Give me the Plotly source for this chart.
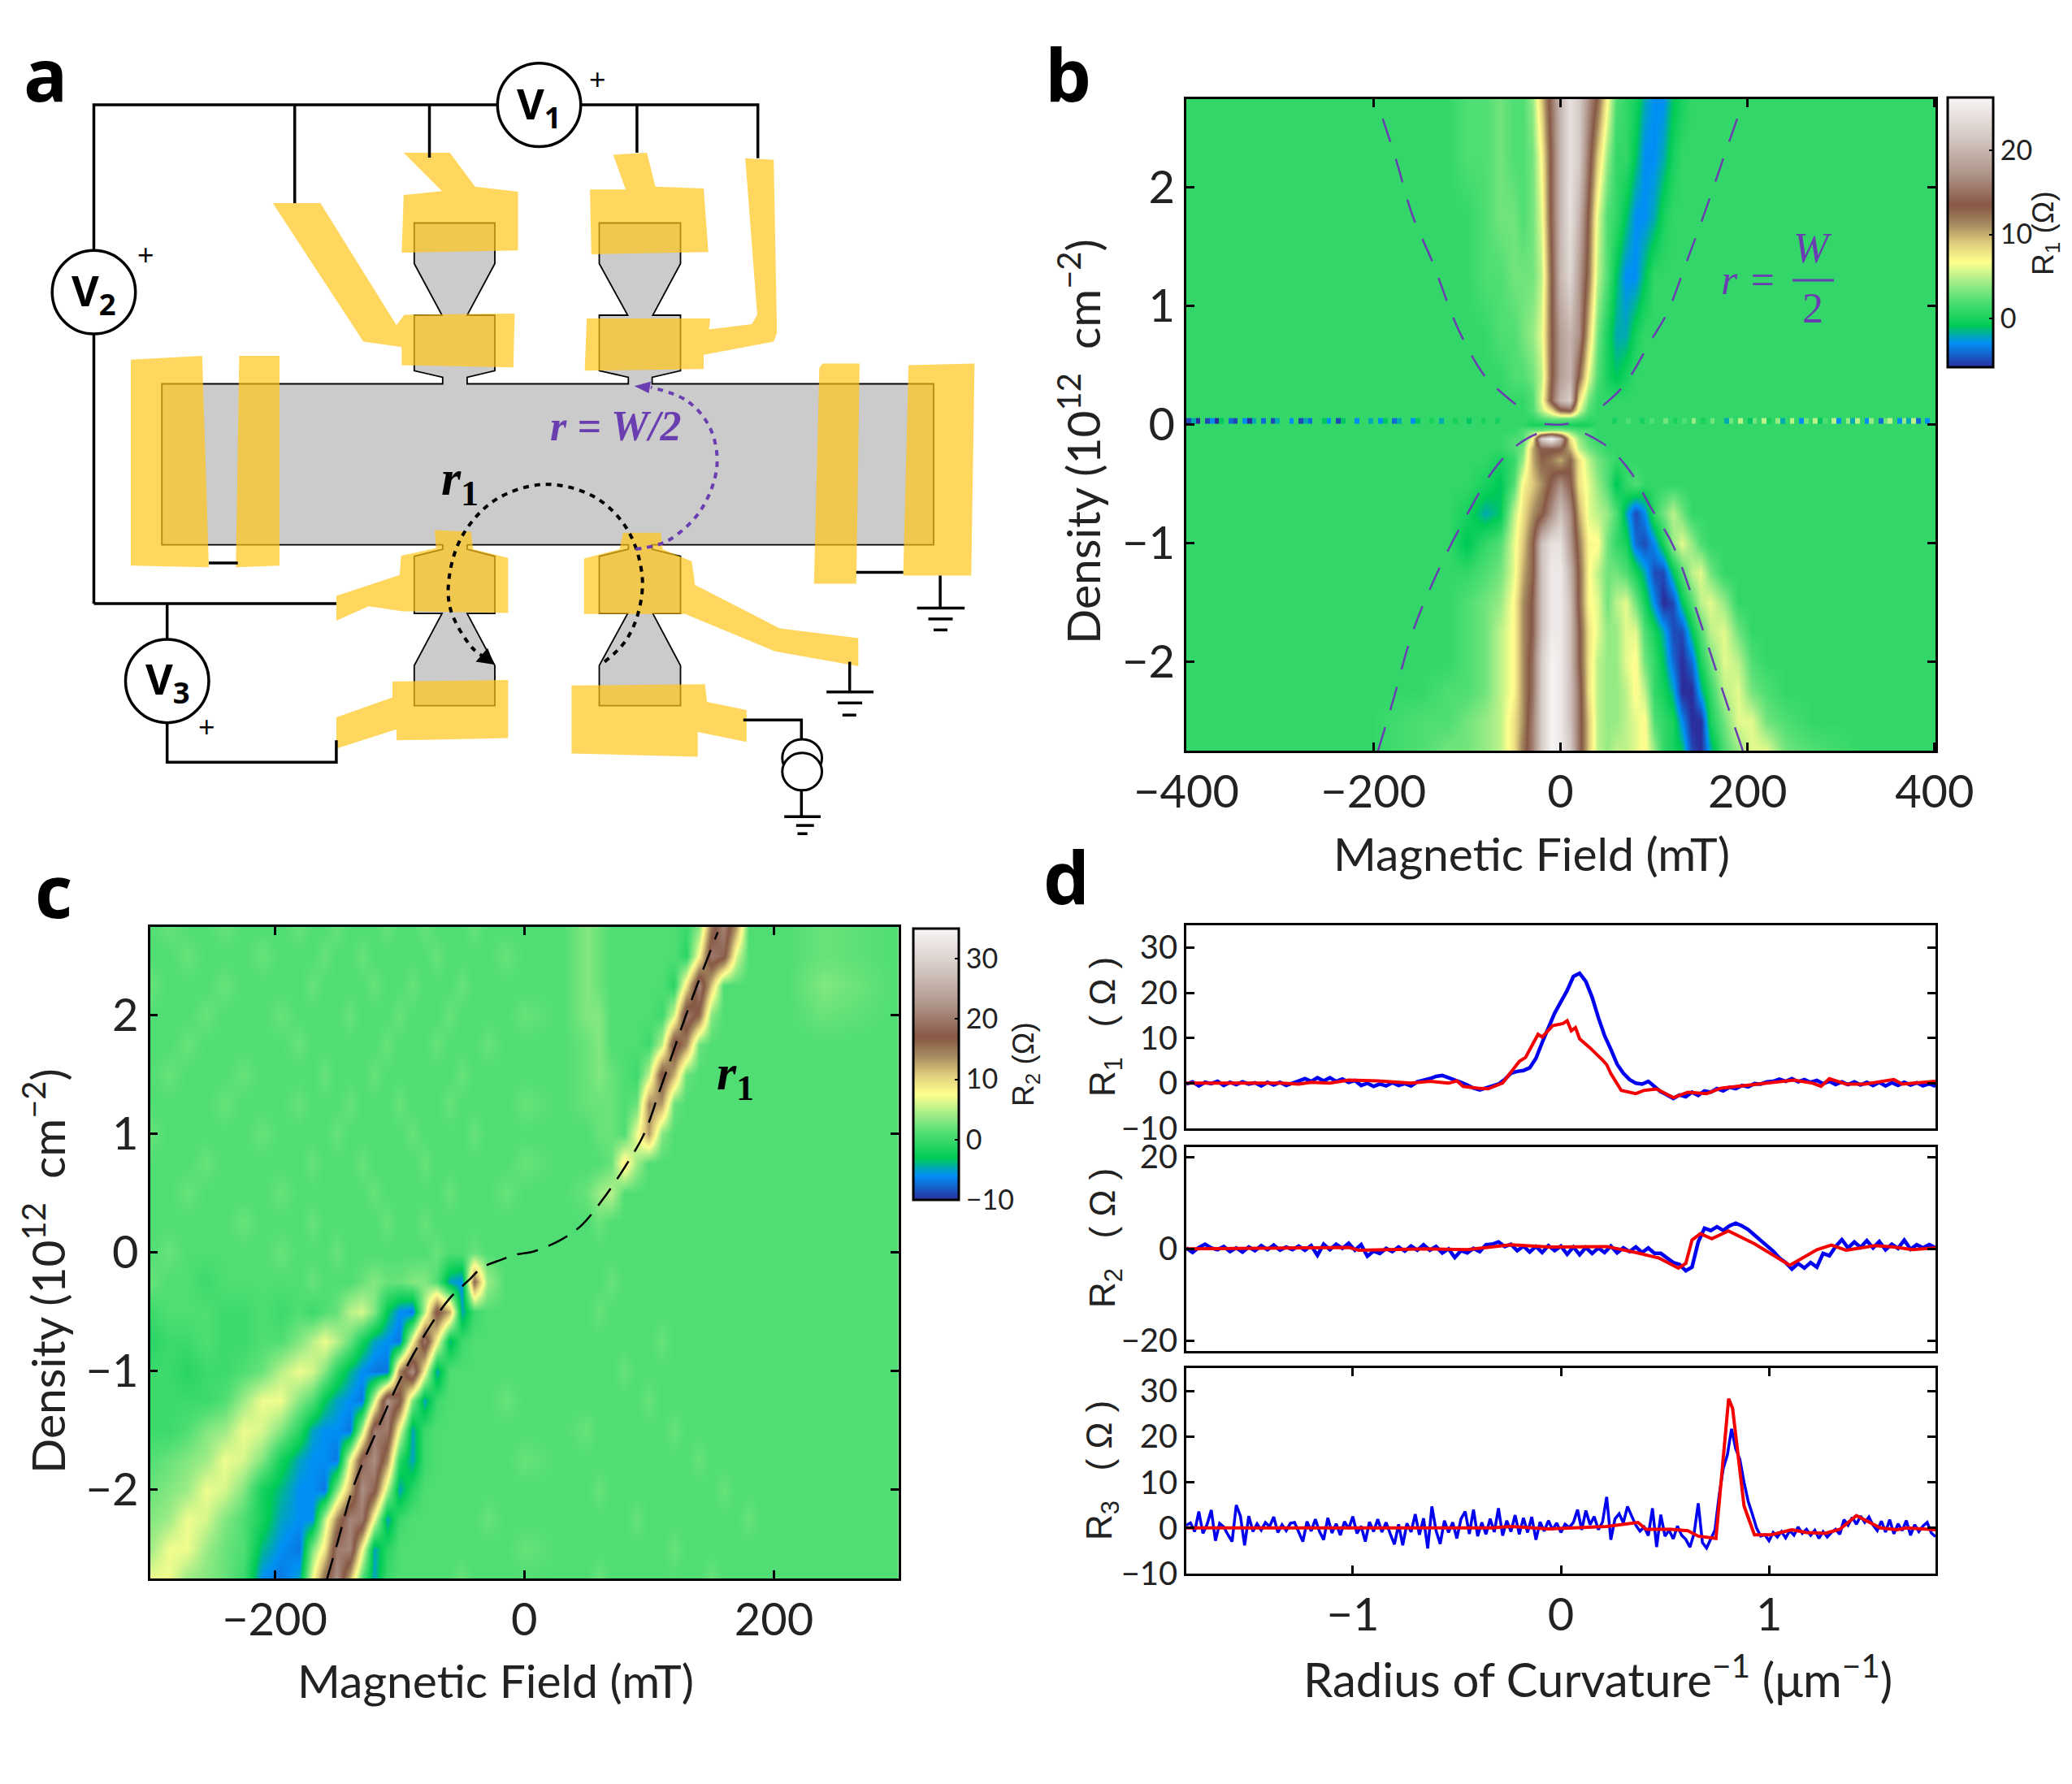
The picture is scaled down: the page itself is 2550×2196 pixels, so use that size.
import plotly.graph_objects as go

# colormap shared by both maps and their colorbars
TERRAIN = [[0, "#2B2F9E"], [0.09, "#0090F5"], [0.125, "#00B0A0"], [0.155, "#00CC55"],
           [0.25, "#55DF76"], [0.32, "#A8EE88"], [0.39, "#FFFF8F"], [0.46, "#DFCC7C"],
           [0.53, "#A58A5F"], [0.60, "#875845"], [0.72, "#B0968B"], [0.85, "#D3C7C2"],
           [1, "#F8F6F6"]]

# panel b: R1 map
B_FIELD = [-400, -300, -200, -150, -120, -100, -80, -65, -50, -40,
           -30, -20, -10, 0, 10, 20, 30, 40, 50, 60,
           70, 80, 90, 100, 110, 120, 130, 140, 150, 160,
           175, 190, 205, 220, 240, 270, 320, 400]
B_DENSITY = [2.75, 2.25, 1.75, 1.25, 0.75, 0.4, 0.2, 0.12, 0.05, 0, -0.05, -0.12,
             -0.2, -0.3, -0.5, -0.75, -1, -1.25, -1.5, -1.75, -2, -2.25, -2.5, -2.75]
B_R1 = [
    [1, 1, 1, 1, 1, 2, 2, 3, 2, 2, 4, 9, 15, 20, 24, 22, 17, 13, 7, 2, 1, 0, -2, -3, -3, -1, 0, 1, 1, 1, 1, 1, 1, 1, 1, 1, 1, 1],
    [1, 1, 1, 1, 1, 2, 2, 3, 2, 2, 3, 7, 14, 20, 24, 22, 15, 9, 4, 1, 1, -1, -3, -3, -2, 0, 1, 1, 1, 1, 1, 1, 1, 1, 1, 1, 1, 1],
    [1, 1, 1, 1, 1, 1, 2, 3, 3, 2, 3, 6, 14, 20, 24, 20, 13, 6, 2, 1, -1, -3, -3, -2, 0, 1, 1, 1, 1, 1, 1, 1, 1, 1, 1, 1, 1, 1],
    [1, 1, 1, 1, 1, 1, 2, 2, 3, 3, 3, 5, 13, 20, 23, 18, 12, 5, 2, -1, -3, -3, -1, 1, 1, 1, 1, 1, 1, 1, 1, 1, 1, 1, 1, 1, 1, 1],
    [1, 1, 1, 1, 1, 1, 1, 2, 2, 3, 4, 6, 13, 18, 20, 17, 9, 3, 0, -2, -2, 0, 1, 1, 1, 1, 1, 1, 1, 1, 1, 1, 1, 1, 1, 1, 1, 1],
    [1, 1, 1, 1, 1, 1, 1, 1, 2, 2, 3, 5, 13, 18, 20, 13, 6, 2, 0, -1, 0, 1, 1, 1, 1, 1, 1, 1, 1, 1, 1, 1, 1, 1, 1, 1, 1, 1],
    [1, 1, 1, 1, 1, 1, 1, 1, 1, 1, 2, 6, 14, 20, 22, 8, 3, 1, 1, 1, 1, 1, 1, 1, 1, 1, 1, 1, 1, 1, 1, 1, 1, 1, 1, 1, 1, 1],
    [1, 1, 1, 1, 1, 1, 1, 1, 1, 1, 2, 5, 8, 13, 14, 6, 2, 1, 1, 1, 1, 1, 1, 1, 1, 1, 1, 1, 1, 1, 1, 1, 1, 1, 1, 1, 1, 1],
    [1, 1, 1, 1, 1, 1, 1, 1, 1, 1, 1, 2, 3, 3, 3, 2, 1, 1, 1, 1, 1, 1, 1, 1, 1, 1, 1, 1, 1, 1, 1, 1, 1, 1, 1, 1, 1, 1],
    [1, 1, 1, 1, 1, 1, 1, 1, 1, 1, 0, 0, 0, 0, 0, 0, 0, 1, 1, 1, 1, 1, 1, 1, 1, 1, 1, 1, 1, 1, 1, 1, 1, 1, 1, 1, 1, 1],
    [1, 1, 1, 1, 1, 1, 1, 1, 1, 2, 3, 3, 4, 4, 3, 2, 2, 1, 1, 1, 1, 1, 1, 1, 1, 1, 1, 1, 1, 1, 1, 1, 1, 1, 1, 1, 1, 1],
    [1, 1, 1, 1, 1, 1, 1, 1, 2, 2, 7, 22, 26, 20, 8, 4, 2, 1, 1, 1, 1, 1, 1, 1, 1, 1, 1, 1, 1, 1, 1, 1, 1, 1, 1, 1, 1, 1],
    [1, 1, 1, 1, 1, 1, 1, 1, 2, 3, 10, 14, 14, 14, 10, 5, 3, 2, 1, 1, 1, 1, 1, 1, 1, 1, 1, 1, 1, 1, 1, 1, 1, 1, 1, 1, 1, 1],
    [1, 1, 1, 1, 1, 1, 1, 0, 1, 4, 10, 13, 12, 10, 13, 8, 5, 3, 2, 1, 1, 1, 1, 1, 1, 1, 1, 1, 1, 1, 1, 1, 1, 1, 1, 1, 1, 1],
    [1, 1, 1, 1, 1, 1, 0, -1, 2, 7, 9, 11, 14, 17, 14, 8, 6, 4, 2, -1, 1, 2, 1, 1, 1, 1, 1, 1, 1, 1, 1, 1, 1, 1, 1, 1, 1, 1],
    [1, 1, 1, 1, 1, 0, -2, -1, 5, 8, 11, 13, 17, 21, 17, 10, 6, 5, 4, 2, -2, -5, -3, 1, 3, 5, 3, 1, 1, 1, 1, 1, 1, 1, 1, 1, 1, 1],
    [1, 1, 1, 1, 1, -1, 1, 2, 6, 9, 13, 21, 24, 24, 18, 12, 7, 7, 3, 1, 0, -4, -5, -3, 0, 4, 6, 4, 2, 1, 1, 1, 1, 1, 1, 1, 1, 1],
    [1, 1, 1, 1, 1, 1, 2, 3, 6, 10, 13, 21, 25, 25, 20, 13, 7, 5, 3, 3, 2, 0, -2, -5, -5, -1, 2, 5, 6, 3, 1, 1, 1, 1, 1, 1, 1, 1],
    [1, 1, 1, 1, 1, 2, 3, 4, 7, 11, 14, 21, 25, 25, 21, 13, 7, 6, 3, 5, 6, 3, 0, -3, -6, -5, -1, 2, 5, 6, 4, 1, 1, 1, 1, 1, 1, 1],
    [1, 1, 1, 1, 1, 2, 3, 5, 7, 11, 14, 21, 25, 25, 21, 14, 8, 6, 4, 4, 6, 6, 2, 0, -2, -5, -5, -1, 2, 5, 6, 3, 1, 1, 1, 1, 1, 1],
    [1, 1, 1, 1, 1, 2, 3, 5, 7, 11, 15, 22, 26, 25, 21, 14, 8, 5, 4, 4, 6, 7, 3, 1, -1, -4, -6, -4, 0, 3, 6, 5, 2, 1, 1, 1, 1, 1],
    [1, 1, 1, 1, 2, 2, 3, 5, 7, 11, 15, 22, 26, 25, 21, 15, 8, 5, 4, 4, 5, 7, 5, 1, 0, -2, -6, -6, -2, 1, 5, 6, 3, 2, 1, 1, 1, 1],
    [1, 1, 1, 2, 2, 3, 4, 5, 8, 11, 16, 22, 26, 25, 21, 15, 9, 5, 4, 4, 5, 6, 7, 2, 1, 0, -3, -6, -6, 0, 3, 6, 6, 3, 2, 1, 1, 1],
    [1, 1, 1, 2, 3, 3, 4, 5, 8, 12, 16, 22, 26, 25, 22, 15, 9, 5, 4, 5, 5, 6, 7, 4, 1, 0, -1, -5, -6, -2, 2, 4, 6, 6, 3, 2, 1, 1],
]
# noisy row right at zero density, 5 mT cells
STRIP_EDGES = list(range(-400, 401, 5))
STRIP_DENSITY = [0.01, 0.055]
STRIP_ROW = [-5, -2, -6, 1, -5, -3, -6, -1, 1, -4, -5, 1, -3, -6, -2, 1, -4, 1, -5, -2,
             1, 1, -3, 1, -5, -2, -4, 1, 1, -1, -3, 1, -5, -1, 1, 1, -3, 1, 1, -2,
             1, -3, -1, 1, -4, -2, 1, 1, -3, -1, 1, 1, 0, 1, -2, 1, 1, 0, 1, 1,
             -1, 1, 1, 0, 1, 1, 0, 1, 1, 1, None, None, None, None, None, None, None, None, None, None,
             None, None, None, None, None, None, None, None, None, None, 1, 0, 1, 1, 2, 1, 1, 0, 1, 2,
             1, 1, 3, 1, 0, 1, 2, 1, 4, 1, 0, 1, 3, 1, 1, -2, 3, 1, 5, 1,
             -1, 3, 1, 5, 0, 1, 4, -2, 1, 5, 1, -3, 3, 1, 5, -1, 2, 1, 5, -3,
             1, 4, -2, 5, 1, -3, 4, 1, -4, 3, 5, 1, -3, 4, -2, 5, -4, 1, -3, 1]
# dashed r = W/2 curves
WB_UP_R_B = [189, 174, 153, 135, 114, 96, 75, 61, 36]
WB_UP_R_N = [2.58, 2.24, 1.76, 1.375, 0.94, 0.70, 0.41, 0.27, 0.10]
WB_UP_L_B = [-190, -176, -158, -137, -109, -81, -63, -35]
WB_UP_L_N = [2.58, 2.24, 1.76, 1.375, 0.80, 0.41, 0.27, 0.09]
WB_MID_B = [-17, 0, 15]
WB_MID_N = [0.005, 0, 0.015]
WB_LO_L_B = [-195, -179, -158, -130, -102, -73, -52, -35, -20]
WB_LO_L_N = [-2.75, -2.33, -1.75, -1.22, -0.79, -0.40, -0.21, -0.115, -0.06]
WB_LO_R_B = [195, 177, 153, 121, 96, 75, 54, 36, 18]
WB_LO_R_N = [-2.75, -2.33, -1.75, -1.03, -0.69, -0.40, -0.21, -0.115, -0.045]

# panel c: R2 map
C_FIELD = [-300, -285, -270, -255, -240, -225, -210, -195, -180, -170,
           -160, -150, -140, -130, -120, -110, -100, -90, -80, -70,
           -60, -50, -40, -30, -15, 0, 30, 50, 60, 70,
           80, 90, 100, 110, 120, 130, 140, 150, 160, 170,
           180, 190, 210, 240, 300]
C_DENSITY = [2.75, 2.5, 2.25, 2, 1.75, 1.5, 1.25, 1, 0.75, 0.5, 0.25, 0,
             -0.25, -0.5, -0.75, -1, -1.25, -1.5, -1.75, -2, -2.25, -2.5, -2.75]
C_R2 = [
    [1, 2, 1, 1, 2, 1, 1, 1, 2, 1, 1, 2, 1, 1, 1, 2, 1, 1, 2, 1, 1, 1, 2, 1, 1, 1, 1, 3, 2, 1, 1, 1, 1, 1, 1, 0, 3, 15, 21, 13, 1, 1, 1, 2, 1],
    [1, 1, 2, 1, 1, 1, 2, 1, 1, 1, 2, 1, 1, 2, 1, 1, 1, 1, 1, 2, 1, 1, 1, 1, 2, 1, 1, 3, 2, 1, 1, 1, 1, 1, 1, -1, 8, 20, 18, 6, 1, 1, 1, 2, 1],
    [2, 1, 1, 1, 2, 1, 1, 1, 1, 2, 1, 1, 1, 1, 2, 1, 1, 2, 1, 1, 1, 2, 1, 1, 1, 1, 1, 3, 2, 1, 1, 1, 1, 1, -1, 9, 21, 11, 1, 1, 1, 1, 1, 3, 1],
    [1, 1, 1, 2, 1, 1, 1, 2, 1, 1, 1, 1, 2, 1, 1, 1, 2, 1, 1, 1, 2, 1, 1, 1, 1, 2, 1, 3, 3, 1, 1, 1, 1, 0, 6, 20, 16, 3, 1, 1, 1, 1, 1, 2, 1],
    [1, 1, 2, 1, 1, 1, 1, 1, 2, 1, 1, 1, 1, 1, 1, 2, 1, 1, 1, 2, 1, 1, 1, 2, 1, 1, 1, 2, 3, 1, 1, 1, 0, 5, 19, 14, 2, 1, 1, 1, 1, 1, 1, 1, 1],
    [1, 2, 1, 1, 1, 2, 1, 1, 1, 1, 2, 1, 1, 1, 2, 1, 1, 1, 1, 1, 1, 2, 1, 1, 1, 1, 1, 2, 3, 2, 1, 0, 5, 18, 12, 2, 1, 1, 1, 1, 1, 1, 1, 1, 1],
    [1, 1, 1, 1, 2, 1, 1, 1, 2, 1, 1, 1, 2, 1, 1, 1, 2, 1, 1, 1, 2, 1, 1, 1, 1, 2, 1, 2, 2, 2, 1, 2, 14, 13, 2, 1, 1, 1, 1, 1, 1, 1, 1, 1, 1],
    [2, 1, 1, 1, 1, 1, 2, 1, 1, 1, 1, 2, 1, 1, 1, 1, 1, 2, 1, 1, 1, 1, 2, 1, 1, 1, 1, 1, 2, 2, 1, 7, 13, 3, 1, 1, 1, 1, 1, 1, 1, 1, 1, 1, 1],
    [1, 1, 1, 2, 1, 1, 1, 1, 1, 2, 1, 1, 1, 2, 1, 1, 1, 1, 2, 1, 1, 1, 1, 1, 1, 2, 1, 1, 1, 2, 9, 4, 1, 1, 1, 1, 1, 1, 1, 1, 1, 1, 1, 1, 1],
    [1, 1, 2, 1, 1, 1, 1, 2, 1, 1, 1, 1, 1, 1, 2, 1, 1, 1, 1, 1, 2, 1, 1, 1, 2, 1, 1, 2, 4, 5, 1, 1, 1, 1, 1, 1, 1, 1, 1, 1, 1, 1, 1, 1, 1],
    [1, 1, 1, 1, 1, 2, 1, 1, 1, 2, 1, 1, 1, 1, 1, 2, 1, 1, 2, 1, 1, 1, 1, 1, 1, 1, 1, 1, 2, 1, 1, 1, 1, 1, 1, 1, 1, 1, 1, 1, 1, 1, 1, 1, 1],
    [1, 2, 1, 1, 1, 1, 1, 2, 1, 1, 1, 2, 1, 1, 1, 1, 1, 1, 1, 2, 1, 1, 2, 1, 1, 1, 1, 1, 1, 1, 1, 1, 1, 1, 1, 1, 1, 1, 1, 1, 1, 1, 1, 1, 1],
    [2, 1, 1, 0, 1, 1, 1, 1, 1, 2, 1, 1, 1, 2, 3, 2, 2, 3, 3, 1, -5, -6, 16, 4, 1, 1, 1, 1, 1, 2, 1, 1, 1, 1, 1, 1, 1, 1, 1, 1, 1, 1, 1, 1, 1],
    [0, 1, 1, 1, 0, 0, 1, 0, 1, 0, 1, 2, 5, 6, 3, -3, -6, -7, 5, 18, 12, -5, 0, 1, 1, 1, 1, 1, 2, 1, 1, 1, 1, 1, 1, 1, 1, 1, 1, 1, 1, 1, 1, 1, 1],
    [-1, 0, 0, 1, 0, 0, 1, 1, 3, 5, 7, 5, 2, -2, -5, -6, -7, 8, 20, 8, -4, 0, 1, 1, 1, 1, 1, 1, 1, 1, 1, 1, 1, 2, 1, 1, 1, 1, 1, 1, 1, 1, 1, 1, 1],
    [0, 0, -1, 0, 0, 1, 2, 5, 7, 6, 3, -1, -4, -6, -7, -7, 14, 22, 8, -5, 1, 1, 1, 1, 1, 1, 1, 1, 1, 1, 2, 1, 1, 1, 1, 1, 1, 1, 1, 1, 1, 1, 1, 1, 1],
    [0, 0, 0, 0, 1, 4, 7, 7, 3, 1, -3, -5, -6, -7, 6, 22, 18, 3, -5, 0, 1, 1, 1, 1, 2, 1, 1, 1, 1, 1, 1, 1, 2, 1, 1, 1, 1, 1, 1, 1, 1, 1, 1, 1, 1],
    [0, 0, 1, 3, 4, 7, 6, 3, -1, -5, -6, -6, -7, 5, 20, 20, 7, -5, 0, 1, 1, 1, 1, 1, 1, 1, 1, 2, 1, 1, 1, 1, 1, 1, 2, 1, 1, 1, 1, 1, 1, 1, 1, 1, 1],
    [1, 2, 3, 4, 7, 6, 3, -2, -5, -6, -6, -7, 7, 18, 22, 14, -1, -5, 0, 1, 1, 1, 1, 1, 1, 2, 1, 1, 1, 1, 1, 1, 1, 1, 1, 1, 2, 1, 1, 1, 1, 1, 1, 1, 1],
    [2, 3, 4, 7, 6, 3, -2, -4, -6, -6, -7, 3, 12, 22, 18, 5, -5, -1, 1, 1, 1, 1, 1, 1, 1, 1, 1, 1, 2, 1, 1, 1, 1, 1, 1, 1, 1, 1, 2, 1, 1, 1, 1, 1, 1],
    [3, 4, 7, 6, 3, 1, -2, -5, -6, -6, 5, 14, 21, 20, 7, -5, 0, 1, 1, 1, 1, 1, 1, 2, 1, 1, 1, 1, 1, 1, 1, 2, 1, 1, 1, 1, 1, 1, 1, 1, 2, 1, 1, 1, 1],
    [4, 7, 7, 4, 2, 1, -4, -6, -7, 3, 9, 20, 21, 8, -5, -1, 1, 1, 1, 1, 1, 1, 1, 1, 1, 2, 1, 1, 1, 1, 1, 1, 1, 1, 2, 1, 1, 1, 1, 1, 1, 1, 1, 1, 1],
    [7, 7, 4, 3, 2, 0, -6, -7, -5, 7, 16, 22, 12, 1, -5, 0, 1, 1, 1, 1, 1, 2, 1, 1, 1, 1, 1, 1, 2, 1, 1, 1, 1, 1, 1, 1, 1, 2, 1, 1, 1, 1, 1, 1, 1],
]
R1_CURVE_B = [-158, -150, -137, -118, -97, -76, -60, -44, -34, -18, -7, 8, 30, 46, 61, 80, 96, 109, 133, 155]
R1_CURVE_N = [-2.75, -2.46, -1.98, -1.5, -1.02, -0.63, -0.39, -0.23, -0.13, -0.06, -0.02, 0.01, 0.11, 0.23, 0.42, 0.71, 1, 1.38, 2.1, 2.7]

# panel d traces
RHO_STEP3 = [round(-1.8 + 0.03 * i, 2) for i in range(121)]
RHO_STEP2 = [round(-1.8 + 0.02 * i, 2) for i in range(181)]
D1_BLUE = [-.2, .3, -.6, .2, -.1, .4, -.5, .2, -.3, .3,
           -.2, .1, -.6, .2, -.4, .2, -.5, .1, .5, 1,
           .4, 1.2, .5, 1.2, .4, .9, .2, .6, -.5, 0,
           -.7, -.2, -.6, .1, -.5, -.1, -.6, .3, .6, 1,
           1.5, 1.7, 1.2, .8, .2, -.4, -1.1, -1.5, -1, -.7,
           -.2, .8, 2.2, 2.6, 2.8, 3.4, 5.5, 9, 12.5, 15.5,
           18, 20.5, 23.6, 24.3, 22.5, 19, 14.5, 10.5, 7.5, 4.2,
           2.2, .8, 0, -.2, .4, -.8, -1.9, -2.6, -3.4, -2.6,
           -3, -2, -2.7, -1.7, -2, -1.2, -1.7, -.9, -1.2, -.5,
           -.8, -.1, -.2, .3, .4, .9, .4, 1, .3, .8,
           .2, .6, -.1, .4, -.3, .3, -.3, .3, -.4, .2,
           -.5, .2, -.6, .1, -.5, .2, -.4, .1, -.6, -.1, -.7]
D1_RED_X = [-1.8, -1.57, -1.34, -1.26, -1.2, -1.11, -1.02, -.88, -.72, -.63, -.54, -.5, -.47, -.4, -.35, -.28,
            -.24, -.2, -.17, -.15, -.11, -.09, -.04, .01, .03, .05, .07, .09, .14, .2, .22, .24, .29,
            .36, .4, .46, .54, .61, .7, .77, .89, 1, 1.12, 1.21, 1.25, 1.29, 1.37, 1.46, 1.6, 1.64, 1.8]
D1_RED = [0, 0, 0, -.2, .2, 0, .7, .5, 0, .4, 0, .5, -.7, -1.1, -1.25, .06,
          2.4, 4.8, 5.7, 7.5, 10.8, 10.2, 12.7, 13.2, 13.8, 11.6, 12.3, 9.8, 7.8, 5.1, 4.1, 2.1, -1.6,
          -2.3, -1.6, -1.3, -3.2, -2, -2.3, -1.1, -.5, 0, .7, 0, -.7, 1, -.2, -.2, .8, -.2, .4]
D2_BLUE = [.2, -.8, .3, 1, .2, -.2, .5, -.6, .2, -.7,
           .4, -.4, .7, -.2, .8, -.3, .4, -.2, .6, -.3,
           .7, -1.4, 1, -.2, 1, .1, 1.2, -.3, .9, -1.6,
           -.5, -1, .1, -.6, .4, -.5, .6, -.3, .9, -.3,
           .5, -.9, 0, -1.9, -.4, -.9, .1, -.6, .9, 1,
           1.5, .5, 1, -.4, .6, -.7, .5, -.8, .7, -.4,
           .6, -1.2, .4, -1.3, .3, -1, .2, -.8, .6, -.9,
           .2, -.6, .4, -.8, .2, -1, -1, -2, -3, -3.4,
           -4.8, -4, 1.5, 4.5, 4, 4.8, 4, 5, 5.6, 5,
           4.2, 3, 1.8, .6, -.5, -2, -3, -4.4, -3.2, -4.2,
           -3, -4, -1, -1.5, .5, 2, .2, 1.5, .3, 1.8,
           .2, 1.6, -.2, 1, .1, 1.9, -.1, .9, .2, .9, .2]
D2_RED_X = [-1.8, -1.02, -.97, -.65, -.45, -.33, -.24, -.055, .22, .36, .47, .565, .6, .63, .67, .725, .805,
            .93, 1, 1.1, 1.185, 1.23, 1.3, 1.37, 1.51, 1.6, 1.69, 1.8]
D2_RED = [0, .3, -.3, 0, -.2, .5, .9, .4, .5, -.8, -2, -4.2, -3.2, 1.9, 3.3, 2.2, 3.9,
          1.1, -.8, -3.6, -1.4, -.2, .8, -.3, .7, .4, -.2, .2]
D3_BLUE = [.6, 1.1, -.8, 3.6, -1.2, .8, 3.9, -2.8, 1, .2,
           -1.5, -3, 5, 2.6, -3.8, 2.6, -.8, .9, -.5, 1.2,
           .3, 2.4, -1, .7, -.6, 1, 1.2, -.9, -3, 1.4,
           -.7, 1.9, -.8, -2.6, 2.2, -1.1, .9, -1.6, 1.4, -.2,
           2.5, -1.2, .4, -3, 1.3, -.8, 1.9, -.9, 1.2, -1.3,
           -3.6, .8, -3.8, 1, -.9, 3, -1.5, 2.1, -4.5, 4.7,
           -.6, -3.5, 1.6, -1, 1.2, -2.3, 2, 3.6, -1.3, 4,
           -1.8, 1.2, -1.4, 2, -.9, 4.3, -1.7, 1.6, -.8, 2.8,
           -1.4, 2.2, -1, 2.4, -2.6, 1.3, -.7, 1.6, -.4, 1.1,
           -1, .8, .1, 1.2, 4, -.4, 3.8, .7, 2.5, -.4,
           1.3, 6.8, -2.6, 2, 3.1, 1.1, 4.7, 2.6, .6, -.7,
           .2, -1.7, 4.3, -4.2, 2.9, -1.8, -.5, -2.4, .4, -1.6,
           -2.5, -4.2, -1.2, 5.4, -3.2, -4.4, -2.6, -.5, 7, 13,
           16, 21.7, 17.3, 15, 10, 5.8, 3, 0, -1.8, -1.5,
           -2.8, -1, -2, -.8, -2.2, -.6, -1.6, .2, -1.2, -.3,
           -1.6, -.5, -2.3, -.8, -2, -1, -.3, -1.4, 1.8, .6,
           2.3, .8, 2.6, 1.2, 2.4, .6, -.6, 1.5, -.9, 1.8,
           -1.3, .9, -.6, 1.6, -1.6, .7, -.8, .4, 1.2, -1.1, -1.9]
D3_RED_X = [-1.8, -1.41, -1.11, -.88, -.33, -.24, -.06, .22, .37, .41, .53, .61, .66, .745, .76, .79, .806, .825,
            .85, .88, .93, 1.01, 1.11, 1.18, 1.27, 1.34, 1.42, 1.5, 1.535, 1.615, 1.66, 1.8]
D3_RED = [0, -.1, 0, 0, 0, .3, -.2, .3, 1.2, -.3, -.3, -.6, -1.8, -2.3, 5.4, 21.5, 28.3, 26.2,
          16.1, 4.8, -1.5, -1.5, -.4, -1, -1.2, -.3, 2.7, .9, 0, -.4, 0, -.4]

W, H = 2550, 2196
PURPLE = "#6A3DB0"
GOLD = "#FFC51A"
GRAY = "#CBCBCB"
SX, SY = 1275 / 1568, 1060 / 1568   # schematic was measured in this scale


def sch(p):
    return p[0] * SX, p[1] * SY


def path(pts, close=True):
    d = "M" + " L".join("%.1f %.1f" % sch(p) for p in pts)
    return d + (" Z" if close else "")


def shape_poly(pts, fill, line=None, width=0, opacity=1):
    return dict(type="path", path=path(pts), xref="x5", yref="y5", layer="below", fillcolor=fill,
                opacity=opacity, line=dict(color=line or "rgba(0,0,0,0)", width=width))


def wire(pts, width=3.5):
    return dict(type="path", path=path(pts, close=False), xref="x5", yref="y5", layer="below",
                line=dict(color="black", width=width))


def circle(cx, cy, rx, ry, width=3.5):
    x0, y0 = sch((cx - rx, cy - ry))
    x1, y1 = sch((cx + rx, cy + ry))
    return dict(type="circle", x0=x0, y0=y0, x1=x1, y1=y1, xref="x5", yref="y5", layer="below",
                fillcolor="white", line=dict(color="black", width=width))


def text(x, y, s, size, family="Lato", color="black", angle=0):
    return dict(x=x, y=y, xref="x5", yref="y5", text=s, showarrow=False, textangle=angle,
                font=dict(family=family, size=size, color=color), xanchor="center", yanchor="middle")


DEVICE = [(245, 699), (670, 699), (670, 687), (627, 675), (627, 574), (669, 574), (627, 480), (627, 406),
          (749, 406), (749, 480), (707, 574), (749, 574), (749, 675), (707, 687), (707, 699), (951, 699),
          (951, 687), (907, 675), (907, 574), (950, 574), (907, 480), (907, 406), (1030, 406), (1030, 480),
          (988, 574), (1030, 574), (1030, 675), (987, 687), (987, 699), (1413, 699), (1413, 992), (987, 992),
          (987, 1000), (1030, 1013), (1030, 1117), (988, 1117), (1030, 1212), (1030, 1285), (907, 1285),
          (907, 1212), (950, 1117), (907, 1117), (907, 1013), (951, 1000), (951, 992), (707, 992), (707, 1000),
          (749, 1013), (749, 1117), (707, 1117), (749, 1212), (749, 1285), (627, 1285), (627, 1212), (669, 1117),
          (627, 1117), (627, 1013), (670, 1000), (670, 992), (245, 992)]
CONTACTS = [
    [(198, 655), (306, 648), (316, 1033), (198, 1030)],
    [(362, 648), (423, 648), (423, 1030), (357, 1033)],
    [(1240, 670), (1245, 662), (1301, 662), (1296, 1063), (1232, 1063)],
    [(1375, 665), (1475, 662), (1470, 1048), (1367, 1048)],
    [(413, 370), (485, 370), (600, 592), (612, 573), (779, 571), (777, 669), (608, 665), (608, 632), (550, 622)],
    [(611, 278), (681, 278), (719, 340), (784, 349), (784, 456), (608, 460), (611, 355), (669, 348)],
    [(928, 282), (979, 278), (992, 340), (1065, 343), (1072, 459), (895, 463), (893, 345), (947, 345)],
    [(1128, 288), (1171, 291), (1176, 606), (1171, 622), (1065, 646), (1065, 672), (885, 675), (888, 580),
     (1075, 580), (1073, 600), (1138, 590), (1146, 573)],
    [(658, 965), (713, 968), (716, 1000), (769, 1016), (769, 1116), (610, 1113), (558, 1104), (509, 1130),
     (509, 1085), (605, 1047), (607, 1012), (660, 998)],
    [(594, 1241), (769, 1238), (769, 1344), (600, 1348), (600, 1328), (509, 1363), (509, 1306), (594, 1270)],
    [(943, 970), (1000, 970), (1003, 1000), (1047, 1022), (1052, 1065), (1180, 1144), (1299, 1162),
     (1299, 1213), (1173, 1186), (1037, 1118), (884, 1118), (884, 1017), (938, 1000)],
    [(865, 1248), (1067, 1246), (1070, 1278), (1130, 1293), (1130, 1351), (1056, 1333), (1056, 1378), (865, 1372)],
]
WIRES = [
    [(142, 1099), (142, 191), (1147, 191), (1147, 288)],
    [(142, 1099), (509, 1099)],
    [(446, 191), (446, 370)], [(650, 191), (650, 287)], [(964, 191), (964, 278)],
    [(253, 1099), (253, 1165)], [(253, 1316), (253, 1388), (509, 1388), (509, 1348)],
    [(316, 1025), (360, 1025)], [(1296, 1042), (1367, 1042)],
    [(1423, 1048), (1423, 1107)], [(1388, 1107), (1460, 1107)], [(1405, 1127), (1442, 1127)], [(1413, 1147), (1434, 1147)],
    [(1286, 1205), (1286, 1260)], [(1251, 1260), (1322, 1260)], [(1268, 1280), (1305, 1280)], [(1275, 1302), (1296, 1302)],
    [(1125, 1311), (1213, 1311), (1213, 1348)], [(1213, 1436), (1213, 1487)],
    [(1187, 1487), (1242, 1487)], [(1205, 1503), (1232, 1503)], [(1207, 1518), (1222, 1518)],
]
BLACK_ARC = [(915, 1205), (945, 1170), (965, 1120), (972, 1050), (950, 965), (900, 905), (825, 882), (750, 910),
             (700, 975), (680, 1050), (682, 1110), (715, 1180), (738, 1200)]
PURPLE_ARC = [(962, 1000), (1010, 985), (1060, 930), (1085, 850), (1075, 780), (1040, 730), (985, 705)]

fig = go.Figure()

# b
fig.add_trace(go.Heatmap(x=B_FIELD, y=B_DENSITY, z=B_R1, zmin=-5.8, zmax=26.3, colorscale=TERRAIN, zsmooth="best",
                         xaxis="x", yaxis="y", colorbar=dict(
                             x=2397 / W, xanchor="left", xpad=0, y=1 - 120 / H, yanchor="top", ypad=0, len=332 / H,
                             thickness=56, outlinewidth=3, outlinecolor="black", ticks="inside", ticklen=6,
                             tickwidth=2, tickcolor="black", tickvals=[0, 10, 20],
                             tickfont=dict(family="Lato", size=34, color="#222"))))
fig.add_trace(go.Heatmap(x=STRIP_EDGES, y=STRIP_DENSITY, z=[STRIP_ROW], zmin=-5.8, zmax=26.3,
                         colorscale=TERRAIN, showscale=False, xaxis="x", yaxis="y"))
for xs, ys in [(WB_UP_R_B, WB_UP_R_N), (WB_UP_L_B, WB_UP_L_N), (WB_MID_B, WB_MID_N),
               (WB_LO_L_B, WB_LO_L_N), (WB_LO_R_B, WB_LO_R_N)]:
    fig.add_trace(go.Scatter(x=xs, y=ys, mode="lines", xaxis="x", yaxis="y", showlegend=False,
                             line=dict(color=PURPLE, width=2.5, shape="spline", dash="30px,22px")))

# c
fig.add_trace(go.Heatmap(x=C_FIELD, y=C_DENSITY, z=C_R2, zmin=-10, zmax=35, colorscale=TERRAIN, zsmooth="best",
                         xaxis="x2", yaxis="y2", colorbar=dict(
                             x=1124 / W, xanchor="left", xpad=0, y=1 - 1143 / H, yanchor="top", ypad=0, len=334 / H,
                             thickness=56, outlinewidth=3, outlinecolor="black", ticks="inside", ticklen=6,
                             tickwidth=2, tickcolor="black", tickvals=[-10, 0, 10, 20, 30],
                             tickfont=dict(family="Lato", size=34, color="#222"))))
fig.add_trace(go.Scatter(x=R1_CURVE_B, y=R1_CURVE_N, mode="lines", xaxis="x2", yaxis="y2", showlegend=False,
                         line=dict(color="black", width=2.5, shape="spline", dash="26px,14px")))

# d
for (xb, yb, xr, yr, xa, ya, lw) in [(RHO_STEP3, D1_BLUE, D1_RED_X, D1_RED, "x3", "y3", 4.5),
                                     (RHO_STEP3, D2_BLUE, D2_RED_X, D2_RED, "x4", "y4", 4.5),
                                     (RHO_STEP2, D3_BLUE, D3_RED_X, D3_RED, "x6", "y6", 3.5)]:
    fig.add_trace(go.Scatter(x=xb, y=yb, mode="lines", xaxis=xa, yaxis=ya, showlegend=False,
                             line=dict(color="#0000F0", width=lw)))
    fig.add_trace(go.Scatter(x=xr, y=yr, mode="lines", xaxis=xa, yaxis=ya, showlegend=False,
                             line=dict(color="#F40000", width=4)))

# schematic arcs sit in the overlay axes
for pts, col in [(BLACK_ARC, "black"), (PURPLE_ARC, PURPLE)]:
    fig.add_trace(go.Scatter(x=[sch(p)[0] for p in pts], y=[sch(p)[1] for p in pts], mode="lines", xaxis="x5", yaxis="y5",
                             showlegend=False, line=dict(color=col, width=4, shape="spline", dash="7px,7px")))

shapes = [shape_poly(DEVICE, GRAY, "black", 1.8)]
shapes += [shape_poly(c, GOLD, opacity=0.7) for c in CONTACTS]
shapes += [wire(w) for w in WIRES]
shapes += [circle(816, 191, 63, 76), circle(142, 532, 63, 76), circle(253, 1240, 63, 76)]
shapes += [circle(1214, 1380, 30, 34, 3), circle(1214, 1405, 30, 34, 3)]
shapes.append(shape_poly([(748, 1210), (720, 1205), (738, 1180)], "black"))
shapes.append(shape_poly([(960, 703), (985, 695), (982, 716)], PURPLE))
# fraction bar of r = W/2 in b
shapes.append(dict(type="line", x0=2206, x1=2257, y0=345, y1=345, xref="x5", yref="y5",
                   line=dict(color=PURPLE, width=3)))

SERIF = "Liberation Serif"
DENS = "Density (10<sup>12</sup>\u00a0\u00a0cm<sup>\u22122</sup>)"
annotations = [
    text(56, 90, "<b>a</b>", 90, "Open Sans"), text(1314, 90, "<b>b</b>", 90, "Open Sans"),
    text(66, 1095, "<b>c</b>", 90, "Open Sans"), text(1312, 1078, "<b>d</b>", 90, "Open Sans"),
    text(663, 130, "<b>V<sub>1</sub></b>", 52, "Open Sans"), text(115, 360, "<b>V<sub>2</sub></b>", 52, "Open Sans"),
    text(206, 838, "<b>V<sub>3</sub></b>", 52, "Open Sans"),
    text(735, 97, "+", 36, "Open Sans"), text(179, 313, "+", 36, "Open Sans"), text(254, 894, "+", 36, "Open Sans"),
    text(758, 524, "<b><i>r = W/2</i></b>", 52, SERIF, PURPLE),
    text(566, 592, "<b><i>r</i><sub>1</sub></b>", 62, SERIF),
    text(905, 1324, "<b><i>r</i><sub>1</sub></b>", 62, SERIF),
    text(2152, 344, "<i>r =</i>", 52, SERIF, PURPLE), text(2231, 305, "<i>W</i>", 52, SERIF, PURPLE),
    text(2231, 379, "2", 52, SERIF, PURPLE),
    text(1885, 1050, "Magnetic Field (mT)", 57, color="#222"), text(610, 2068, "Magnetic Field (mT)", 57, color="#222"),
    text(1328, 544, DENS, 57, color="#222", angle=-90), text(54, 1565, DENS, 57, color="#222", angle=-90),
    text(1966, 2063, "Radius of Curvature<sup>\u22121</sup> (\u03bcm<sup>\u22121</sup>)", 58, color="#222"),
    text(2517, 287, "R<sub>1</sub> (\u03a9)", 37, "Liberation Sans", "#222", -90),
    text(1262, 1310, "R<sub>2</sub> (\u03a9)", 37, "Liberation Sans", "#222", -90),
    text(1360, 1264, "R<sub>1</sub>\u00a0\u00a0\u00a0(\u00a0\u03a9\u00a0)", 44, "Liberation Sans", "#222", -90),
    text(1360, 1524, "R<sub>2</sub>\u00a0\u00a0\u00a0(\u00a0\u03a9\u00a0)", 44, "Liberation Sans", "#222", -90),
    text(1356, 1810, "R<sub>3</sub>\u00a0\u00a0\u00a0(\u00a0\u03a9\u00a0)", 44, "Liberation Sans", "#222", -90),
]


def dom_x(a, b):
    return [a / W, b / W]


def dom_y(top, bottom):
    return [1 - bottom / H, 1 - top / H]


def ax(domain, rng, anchor, vals=None, size=56, labels=True):
    return dict(domain=domain, range=rng, anchor=anchor, showgrid=False, zeroline=False, showline=True, linecolor="black",
                linewidth=2.5, mirror="ticks" if vals else True, ticks="inside" if vals else "", ticklen=10, tickwidth=2.5,
                tickcolor="black", tickvals=vals or [], showticklabels=labels and bool(vals),
                tickfont=dict(family="Lato", size=size, color="#222"))


fig.update_layout(
    width=W, height=H, margin=dict(l=0, r=0, t=0, b=0, autoexpand=False), autosize=False, paper_bgcolor="white",
    plot_bgcolor="rgba(0,0,0,0)", showlegend=False, shapes=shapes, annotations=annotations,
    xaxis=ax(dom_x(1460, 2382), [-400, 401], "y", [-400, -200, 0, 200, 400]),
    yaxis=ax(dom_y(122, 924), [-2.75, 2.745], "x", [-2, -1, 0, 1, 2]),
    xaxis2=ax(dom_x(184.5, 1106), [-300, 300], "y2", [-200, 0, 200]),
    yaxis2=ax(dom_y(1141, 1943), [-2.75, 2.745], "x2", [-2, -1, 0, 1, 2]),
    xaxis3=ax(dom_x(1460, 2382), [-1.8, 1.8], "y3"),
    yaxis3=ax(dom_y(1138.5, 1389), [-10, 35], "x3", [-10, 0, 10, 20, 30], size=40),
    xaxis4=ax(dom_x(1460, 2382), [-1.8, 1.8], "y4"),
    yaxis4=ax(dom_y(1412, 1663), [-22.3, 22.2], "x4", [-20, 0, 20], size=40),
    xaxis6=ax(dom_x(1460, 2382), [-1.8, 1.8], "y6", [-1, 0, 1]),
    yaxis6=ax(dom_y(1684, 1937), [-10, 35], "x6", [-10, 0, 10, 20, 30], size=40),
    xaxis5=dict(domain=[0, 1], range=[0, W], anchor="y5", visible=False),
    yaxis5=dict(domain=[0, 1], range=[H, 0], anchor="x5", visible=False),
)

fig.write_html("out.html", config={"displayModeBar": False}, post_script="document.body.style.margin='0';")
